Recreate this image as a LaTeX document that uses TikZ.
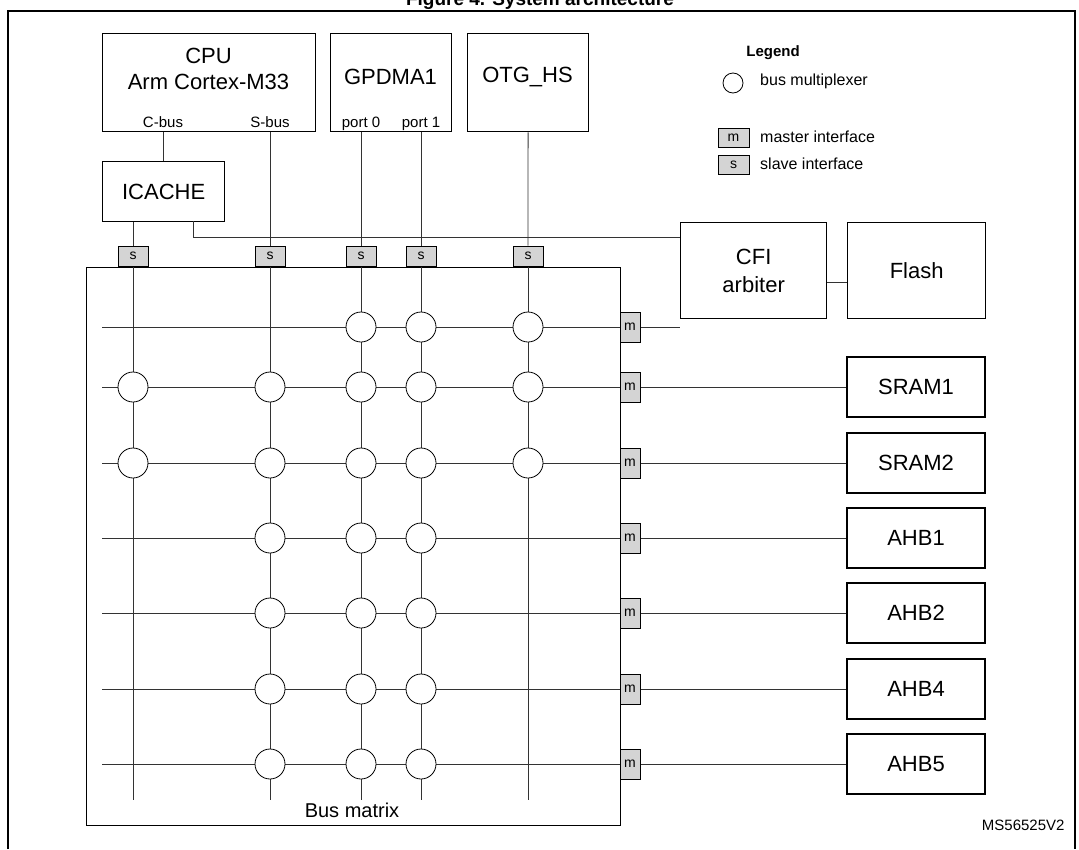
\documentclass[tikz,border=0pt]{standalone}
\usepackage{fontspec}
\setmainfont{Liberation Sans}
\begin{document}
\begin{tikzpicture}[x=1pt,y=-1pt,
  box/.style={draw,line width=1.3pt,inner sep=0pt,font=\fontsize{22}{26}\selectfont,align=center},
  wire/.style={draw,line width=0.8pt,black!80},
  mux/.style={circle,draw,line width=0.8pt,fill=white,minimum size=30pt,inner sep=0pt},
  port/.style={draw,line width=1pt,fill=black!17,inner sep=0pt,font=\fontsize{14}{14}\selectfont},
  sport/.style={port,minimum width=30pt,minimum height=20pt},
  mport/.style={port,minimum width=20pt,minimum height=30pt},
  small/.style={font=\fontsize{15}{16}\selectfont,inner sep=0pt}]
\useasboundingbox (0,0) rectangle (1079,849);
\node[font=\bfseries\fontsize{19}{22}\selectfont,anchor=base] (title) at (540,5) {Figure 4. System architecture};
\draw[line width=1.3pt] (8,849) -- (8,11) -- (1075,11) -- (1075,849);
% masters
\node[box,minimum width=213pt,minimum height=98pt,anchor=north west] (cpu) at (102,33) {};
\node[font=\fontsize{22}{26}\selectfont,align=center] (cputxt) at (208.5,69) {CPU\\Arm Cortex-M33};
\node[small,anchor=base] (cb) at (163,127) {C-bus};
\node[small,anchor=base] (sb) at (270,127) {S-bus};
\node[box,minimum width=121pt,minimum height=98pt,anchor=north west] (dma) at (330,33) {};
\node[font=\fontsize{22}{26}\selectfont] (dmatxt) at (390.5,77) {GPDMA1};
\node[small,anchor=base] (p0) at (361,127) {port 0};
\node[small,anchor=base] (p1) at (421,127) {port 1};
\node[box,minimum width=121pt,minimum height=98pt,anchor=north west] (otg) at (467,33) {};
\node[font=\fontsize{22}{26}\selectfont] (otgtxt) at (527.5,77) {OTG\_HS};
\node[box,minimum width=122pt,minimum height=60pt,anchor=north west] (icache) at (102,161) {ICACHE};
% legend
\node[font=\bfseries\fontsize{15}{16}\selectfont] (leg) at (773,53) {Legend};
\node[circle,draw,line width=0.8pt,minimum size=20pt,inner sep=0pt] (lc) at (733,83) {};
\node[font=\fontsize{16}{17}\selectfont,anchor=west,inner sep=0pt] (lct) at (760,81) {bus multiplexer};
\node[port,minimum width=31pt,minimum height=19pt] (lm) at (733.5,137.5) {m};
\node[font=\fontsize{16}{17}\selectfont,anchor=west,inner sep=0pt] (lmt) at (760,137) {master interface};
\node[port,minimum width=31pt,minimum height=19pt] (ls) at (733.5,165) {s};
\node[font=\fontsize{16}{17}\selectfont,anchor=west,inner sep=0pt] (lst) at (760,164) {slave interface};
% bus matrix
\node[draw,line width=1.3pt,minimum width=534pt,minimum height=558pt,anchor=north west,inner sep=0pt] (bm) at (86,267) {};
\node[font=\fontsize{20}{22}\selectfont] (bmt) at (352,810) {Bus matrix};
% slaves right
\node[box,minimum width=146pt,minimum height=96pt,anchor=north west,font=\fontsize{22}{28}\selectfont] (cfi) at (680,222) {CFI\\arbiter};
\node[box,minimum width=138pt,minimum height=96pt,anchor=north west] (flash) at (847,222) {Flash};
\node[box,minimum width=138pt,minimum height=60pt] (SRAM1) at (916,387) {SRAM1};
\node[box,minimum width=138pt,minimum height=60pt] (SRAM2) at (916,463) {SRAM2};
\node[box,minimum width=138pt,minimum height=60pt] (AHB1) at (916,538) {AHB1};
\node[box,minimum width=138pt,minimum height=60pt] (AHB2) at (916,613) {AHB2};
\node[box,minimum width=138pt,minimum height=60pt] (AHB4) at (916,689) {AHB4};
\node[box,minimum width=138pt,minimum height=60pt] (AHB5) at (916,764) {AHB5};
\node[font=\fontsize{15}{16}\selectfont,anchor=east] (ms) at (1068,825) {MS56525V2};
% columns
\foreach \i/\x in {1/133,2/270,3/361,4/421,5/528}{
  \node[sport] (s\i) at (\x,256) {s};
  \coordinate (e\i) at (\x,800);
}
\foreach \j/\y in {1/327,2/387,3/463,4/538,5/613,6/689,7/764}{
  \node[mport] (m\j) at (630,\y) {m};
  \coordinate (w\j) at (102,\y);
}
\draw[wire] (cpu.south west -| cb) -- (icache.north -| cb);
\draw[wire] (icache.south -| s1) -- (s1);
\draw[wire] (cpu.south -| s2) -- (s2);
\draw[wire] (dma.south -| s3) -- (s3);
\draw[wire] (dma.south -| s4) -- (s4);
\draw[wire] (otg) -- (s5);
\draw[wire] (193,221) |- (cfi.west |- 0,237);
\draw[wire] (cfi.east |- 0,282) -- (flash.west |- 0,282);
\foreach \i in {1,...,5}{ \draw[wire] (s\i) -- (e\i); }
\foreach \j in {1,...,7}{ \draw[wire] (w\j) -- (m\j); }
\draw[wire] (m1) -- (cfi.west |- m1);
\draw[wire] (m2) -- (SRAM1);
\draw[wire] (m3) -- (SRAM2);
\draw[wire] (m4) -- (AHB1);
\draw[wire] (m5) -- (AHB2);
\draw[wire] (m6) -- (AHB4);
\draw[wire] (m7) -- (AHB5);
% muxes
\foreach \j/\y/\cols in {1/327/{3,4,5},2/387/{1,2,3,4,5},3/463/{1,2,3,4,5},4/538/{2,3,4},5/613/{2,3,4},6/689/{2,3,4},7/764/{2,3,4}}{
  \foreach \i in \cols { \node[mux] (x\j\i) at (s\i |- m\j) {}; }
}
\end{tikzpicture}
\end{document}
